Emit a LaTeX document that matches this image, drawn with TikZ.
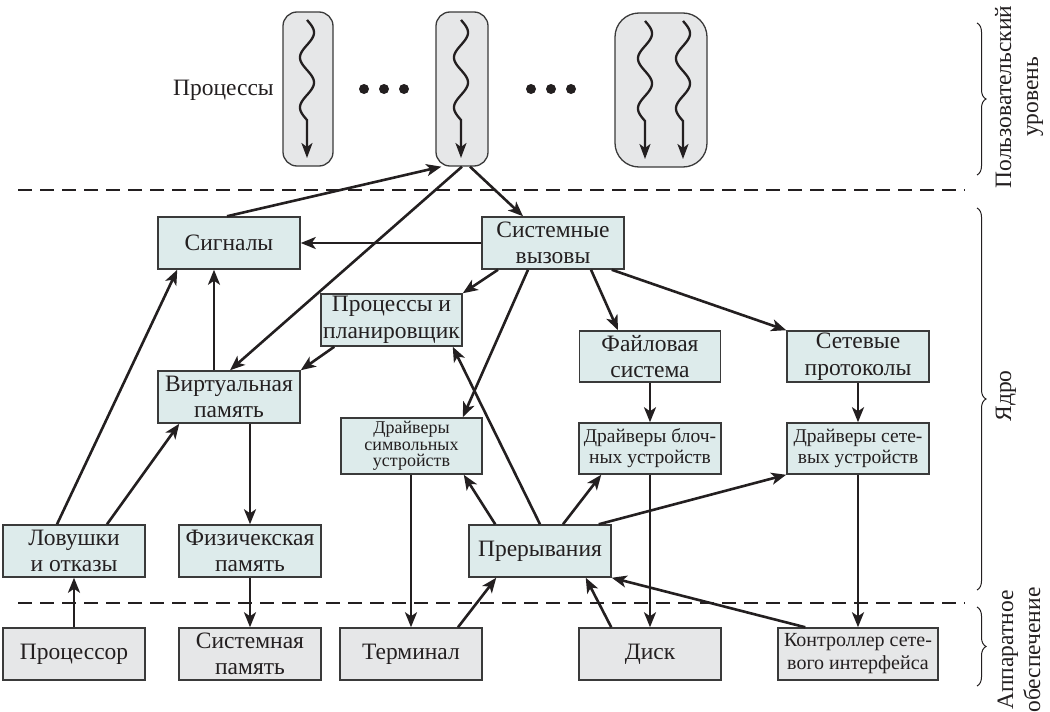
\documentclass[tikz,border=0pt]{standalone}
\usepackage{fontspec}
\setmainfont{Liberation Serif}
\usetikzlibrary{arrows.meta,decorations.pathreplacing}
\definecolor{ink}{HTML}{231F20}
\definecolor{kfill}{HTML}{DDEBEB}
\definecolor{hfill}{HTML}{E6E7E8}
\definecolor{bord}{HTML}{3A3A3A}
\begin{document}
\begin{tikzpicture}[x=1pt,y=-1pt,
  box/.style={draw=bord, line width=1.5pt, inner sep=0pt, align=center, text=ink,
    font=\fontsize{23.5}{26.5}\selectfont, minimum width=142pt, minimum height=52pt},
  kbox/.style={box, fill=kfill},
  hbox/.style={box, fill=hfill},
  capsule/.style={draw=bord, line width=1.3pt, fill=hfill, rounded corners=14pt, inner sep=0pt},
  conn/.style={draw=ink, line width=2.6pt, -{Stealth[length=15pt,width=12pt,inset=4pt]}},
  thread/.style={draw=ink, line width=2.3pt, -{Stealth[length=15pt,width=11pt,inset=4pt]}},
  sep/.style={draw=ink, line width=2.8pt, dash pattern=on 14pt off 8pt},
  br/.style={draw=ink, line width=1pt, decorate, decoration={brace, amplitude=9pt}},
  lab/.style={text=ink, font=\fontsize{23.5}{27}\selectfont, align=center, rotate=90, inner sep=0pt}
]
\useasboundingbox (0,0) rectangle (1050,712);

% processes
\node[capsule, minimum width=50pt, minimum height=154pt] (p1) at (308,89) {};
\node[capsule, minimum width=52pt, minimum height=154pt] (p2) at (462,89) {};
\node[capsule, rounded corners=24pt, minimum width=92pt, minimum height=154pt] (p3) at (661,90) {};
\draw[thread] plot[domain=0:1, samples=80] ({307+7*sin(720*\x)},{20+100*\x}) -- (307,158);
\draw[thread] plot[domain=0:1, samples=80] ({461+7*sin(720*\x)},{20+100*\x}) -- (461,158);
\draw[thread] plot[domain=0:1, samples=80] ({645+7*sin(720*\x)},{21+100*\x}) -- (645,159);
\draw[thread] plot[domain=0:1, samples=80] ({683+7*sin(720*\x)},{21+100*\x}) -- (683,159);
\foreach \cx in {364,384,404,531,551,571} \fill[ink] (\cx,89) circle (5pt);
\node[anchor=east, text=ink, font=\fontsize{23.5}{26}\selectfont, inner sep=0pt] (plab) at (274,90) {Процессы};

% separators
\coordinate (s1a) at (18,190); \coordinate (s1b) at (965,190);
\coordinate (s2a) at (18,603); \coordinate (s2b) at (965,603);
\draw[sep] (s1a) -- (s1b);
\draw[sep] (s2a) -- (s2b);

% kernel boxes
\node[kbox] (sig) at (229,243) {Сигналы};
\node[kbox] (sys) at (553,243) {Системные\\вызовы};
\node[kbox, minimum width=141pt] (proc) at (391.5,320) {Процессы и\\планировщик};
\node[kbox] (vm) at (229,397) {Виртуальная\\память};
\node[kbox, minimum width=141pt, minimum height=51pt] (fs) at (650,356.5) {Файловая\\система};
\node[kbox, minimum height=51pt] (net) at (858,356.5) {Сетевые\\протоколы};
\node[kbox, minimum width=141pt, minimum height=56pt, font=\fontsize{18}{16.5}\selectfont] (chr) at (411.5,446) {Драйверы\\символьных\\устройств};
\node[kbox, minimum height=51pt, font=\fontsize{19.5}{21}\selectfont] (blk) at (650,448.5) {Драйверы блоч-\\ных устройств};
\node[kbox, minimum height=51pt, font=\fontsize{19.5}{21}\selectfont] (ndrv) at (858,448.5) {Драйверы сете-\\вых устройств};
\node[kbox] (trap) at (74,551) {Ловушки\\и отказы};
\node[kbox] (phys) at (250,551) {Физичекская\\память};
\node[kbox] (intr) at (540,551) {Прерывания};

% hardware boxes
\node[hbox] (cpu) at (74,654) {Процессор};
\node[hbox] (smem) at (250,654) {Системная\\память};
\node[hbox] (term) at (411,654) {Терминал};
\node[hbox] (disk) at (650,654) {Диск};
\node[hbox, minimum width=160pt, font=\fontsize{20}{23}\selectfont] (nic) at (858,654) {Контроллер сете-\\вого интерфейса};

% connectors
\draw[conn] ([xshift=-2pt]sig.north) -- ([xshift=6pt]p2.south west);
\draw[conn] (p2.south) -- ([xshift=1pt]vm.north);
\draw[conn] ([xshift=8pt]p2.south) -- ([xshift=-30pt]sys.north);
\draw[conn] (sys.west) -- (sig.east);
\draw[conn] ([xshift=-55pt]sys.south) -- (proc.north east);
\draw[conn] ([xshift=-25pt]sys.south) -- ([xshift=-20pt]chr.north east);
\draw[conn] ([xshift=38pt]sys.south) -- ([xshift=-32pt]fs.north);
\draw[conn] ([xshift=-13pt]sys.south east) -- (net.north west);
\draw[conn] ([xshift=14pt]proc.south west) -- (vm.north east);
\draw[conn] ([xshift=-15pt]vm.north) -- ([xshift=-15pt]sig.south);
\draw[conn] ([xshift=-17pt]trap.north) -- ([xshift=20pt]sig.south west);
\draw[conn] ([xshift=33pt]trap.north) -- ([xshift=22pt]vm.south west);
\draw[conn] (vm.south -| phys.north) -- (phys.north);
\draw[conn] (phys.south) -- (smem.north);
\draw[conn] (cpu.north) -- (trap.south);
\draw[conn] (fs.south) -- (blk.north);
\draw[conn] (net.south) -- (ndrv.north);
\draw[conn] (chr.south -| term.north) -- (term.north);
\draw[conn] ([xshift=47pt]term.north) -- ([xshift=28pt]intr.south west);
\draw[conn] ([xshift=27pt]intr.north west) -- ([xshift=-19pt]chr.south east);
\draw[conn] (intr.north) -- ([xshift=-10pt]proc.south east);
\draw[conn] ([xshift=23pt]intr.north) -- ([xshift=23pt]blk.south west);
\draw[conn] ([xshift=-13pt]intr.north east) -- (ndrv.south west);
\draw[conn] (blk.south) -- (disk.north);
\draw[conn] ([xshift=33pt]disk.north west) -- ([xshift=-26pt]intr.south east);
\draw[conn] ([xshift=28pt]nic.north west) -- (intr.south east);
\draw[conn] (ndrv.south) -- (nic.north);

% braces and level labels
\coordinate (b1a) at (977,23);  \coordinate (b1b) at (977,175);
\coordinate (b2a) at (977,208); \coordinate (b2b) at (977,590);
\coordinate (b3a) at (977,607); \coordinate (b3b) at (977,686);
\draw[br] (b1a) -- (b1b);
\draw[br] (b2a) -- (b2b);
\draw[br] (b3a) -- (b3b);
\node[lab] (l1) at (1019,97) {Пользовательский\\уровень};
\node[lab] (l2) at (1006,396) {Ядро};
\node[lab] (l3) at (1019,650) {Аппаратное\\обеспечение};
\end{tikzpicture}
\end{document}
